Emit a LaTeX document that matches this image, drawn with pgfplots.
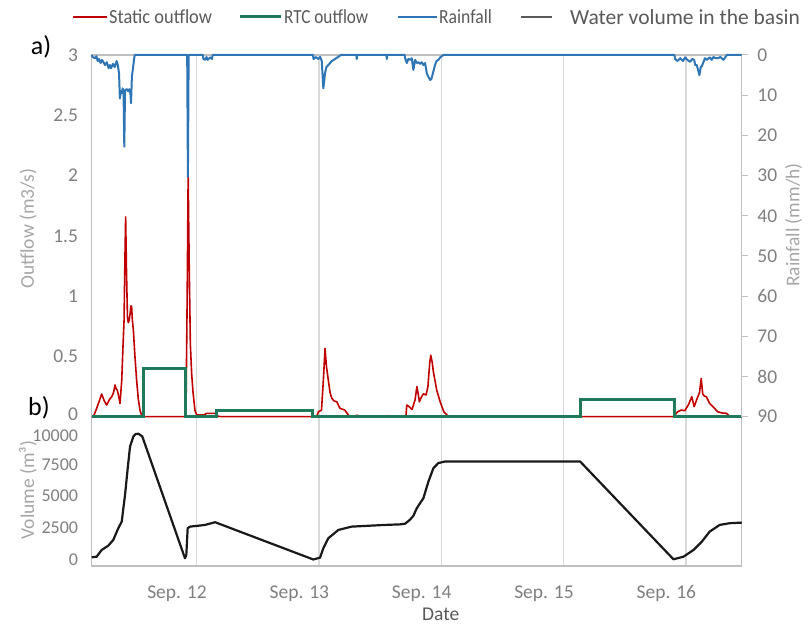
\documentclass[border=0pt]{standalone}
\usepackage{pgfplots}
\pgfplotsset{compat=1.18}
\usepackage{fontspec}
\setmainfont{Carlito}
\definecolor{cred}{HTML}{C00000}
\definecolor{cgreen}{HTML}{1F7A5A}
\definecolor{cblue}{HTML}{2E75B6}
\definecolor{cgrid}{HTML}{D9D9D9}
\definecolor{caxis}{HTML}{BFBFBF}
\definecolor{ctick}{HTML}{7F7F7F}
\definecolor{ctitle}{HTML}{A6A6A6}
\definecolor{cleg}{HTML}{595959}

\pgfplotstableread{
d v
11.1415 0
11.155 0
11.175 0.05
11.2 0.12
11.223 0.188
11.245 0.13
11.264 0.097
11.285 0.14
11.305 0.166
11.32 0.2
11.332 0.263
11.342 0.23
11.351 0.221
11.362 0.17
11.373 0.11
11.387 0.30
11.398 0.6
11.406 0.80
11.413 1.3
11.419 1.657
11.426 1.2
11.434 0.82
11.441 0.78
11.448 0.8
11.455 0.85
11.462 0.92
11.468 0.91
11.474 0.8
11.482 0.72
11.495 0.5
11.509 0.30
11.522 0.15
11.536 0.055
11.55 0.01
11.56 0
11.912 0
11.922 1.0
11.93 2.0
11.938 1.3
11.948 0.6
11.959 0.35
11.97 0.2
11.986 0.05
12.0 0.015
12.06 0.015
12.08 0.028
12.15 0.028
12.17 0.005
12.2 0
12.98 0
12.994 0.04
13.02 0.055
13.035 0.3
13.049 0.566
13.06 0.42
13.076 0.30
13.09 0.2
13.104 0.152
13.125 0.13
13.145 0.124
13.17 0.07
13.21 0.055
13.25 0
13.29 0
13.3 0.01
13.32 0.01
13.33 0
13.55 0
13.56 0.01
13.57 0
13.71 0
13.717 0.097
13.74 0.08
13.76 0.06
13.785 0.14
13.80 0.25
13.812 0.18
13.82 0.124
13.835 0.16
13.853 0.19
13.875 0.18
13.89 0.25
13.905 0.45
13.913 0.51
13.925 0.45
13.935 0.37
13.962 0.22
13.99 0.124
14.02 0.04
14.05 0.01
14.07 0
15.897 0
15.93 0.04
15.96 0.055
15.99 0.05
16.02 0.1
16.047 0.166
16.066 0.083
16.09 0.15
16.11 0.2
16.124 0.318
16.136 0.19
16.15 0.17
16.166 0.166
16.193 0.11
16.22 0.083
16.26 0.04
16.3 0.03
16.33 0.028
16.36 0
16.455 0
}\staticdata

\pgfplotstableread{
d v
11.1415 0
11.563 0
11.563 0.40
11.91 0.40
11.91 0
12.164 0
12.164 0.05
12.948 0.05
12.948 0
15.134 0
15.134 0.14
15.903 0.14
15.903 0
16.455 0
}\rtcdata

\pgfplotstableread{
d r
11.1415 0
11.15 0.5
11.168 0.8
11.18 0.3
11.19 1.5
11.2 1.0
11.215 2.0
11.225 1.2
11.236 1.7
11.25 2.5
11.265 1.8
11.28 3.3
11.29 2.5
11.3 3.3
11.315 2.2
11.33 3.0
11.345 1.5
11.355 2.5
11.365 4.6
11.372 10.8
11.38 9.0
11.387 9.5
11.395 8.3
11.402 9.5
11.408 22.8
11.414 8.7
11.43 8.5
11.44 9.0
11.45 8.5
11.458 9.5
11.463 12.0
11.47 5.4
11.48 3
11.49 0.5
11.495 0
11.922 0
11.928 30.3
11.934 0
12.05 0
12.055 1
12.07 1.2
12.08 0.5
12.09 1.2
12.11 0.6
12.125 1
12.13 0
12.95 0
12.955 1
12.975 0.5
12.992 1
13.01 0.5
13.022 1.5
13.035 8.3
13.049 4.5
13.06 3
13.076 2.5
13.09 2.0
13.104 1.5
13.12 1.2
13.14 0.8
13.155 0.5
13.18 0
13.305 0
13.308 1
13.312 0
13.55 0
13.554 1
13.558 0
13.70 0
13.703 0.7
13.717 2.0
13.73 1.0
13.744 1.2
13.758 0.8
13.771 3.7
13.785 1.2
13.799 2.0
13.812 1.8
13.826 2.2
13.84 1.8
13.853 2.5
13.867 2.0
13.881 4.6
13.895 5.5
13.908 6.2
13.918 6.0
13.93 4.6
13.948 2.5
13.96 1.5
13.976 1.2
13.99 0.6
14.016 0
15.905 0
15.911 1.0
15.93 1.5
15.952 0.8
15.975 1.5
15.992 0.6
16.01 1.2
16.033 1.7
16.05 1.0
16.066 1.2
16.075 2.5
16.088 2.5
16.109 5.0
16.12 3
16.129 2.8
16.142 1.8
16.155 0.8
16.17 1.2
16.193 0.6
16.21 1.2
16.224 0.5
16.24 0.8
16.26 0.8
16.28 0.5
16.306 1.2
16.32 0.6
16.334 0
16.455 0
}\raindata

\pgfplotstableread{
d v
11.1415 174
11.182 221
11.223 751
11.277 1091
11.318 1542
11.359 2466
11.387 2989
11.414 5099
11.436 7210
11.455 8918
11.482 9707
11.50 9894
11.523 9921
11.555 9707
11.904 94
11.915 363
11.926 2466
11.945 2593
12.0 2649
12.068 2727
12.150 2940
12.953 0
13.008 143
13.035 885
13.076 1676
13.158 2332
13.267 2593
13.54 2727
13.662 2770
13.703 2818
13.744 3145
13.771 3447
13.799 4047
13.853 4838
13.894 6150
13.935 7210
13.975 7605
14.03 7731
15.134 7731
15.897 16
15.979 221
16.061 751
16.129 1407
16.193 2198
16.275 2727
16.357 2862
16.456 2909
}\voldata

\begin{document}
\begin{tikzpicture}[x=1pt,y=1pt]
\useasboundingbox (0,0) rectangle (811,626);
\pgfplotsset{
  mybase/.style={
    scale only axis, width=650pt, anchor=south west,
    xmin=11.1415, xmax=16.455,
    scaled x ticks=false, scaled y ticks=false,
    /pgf/number format/assume math mode=true,
    /pgf/number format/1000 sep={},
    ticklabel style={font=\fontsize{19.5}{20}\selectfont, text=ctick, inner sep=1pt},
    label style={font=\fontsize{19.5}{20}\selectfont, text=ctitle},
  }
}
% ---- bottom panel: volume
\begin{axis}[mybase,
  at={(91.7pt,60pt)}, height=149.3pt,
  ymin=-514, ymax=11265,
  ytick={0,2500,5000,7500},
  extra y ticks={10000},
  extra y tick style={yticklabel style={yshift=-2.5pt}},
  axis line style={draw=none},
  tick style={draw=none},
  xtick={12,13,14,15,16},
  xticklabels={Sep. 12,Sep. 13,Sep. 14,Sep. 15,Sep. 16},
  xticklabel style={xshift=-19.7pt, yshift=-18.5pt},
  yticklabel style={xshift=-12.5pt, font=\fontsize{18}{18}\selectfont},
  xmajorgrids, major grid style={cgrid, line width=1.2pt},
  xlabel={Date},
  xlabel style={at={(axis description cs:0.537,-0.322)}, anchor=center, text=cleg},
  ylabel={Volume (m³)},
  ylabel style={at={(axis description cs:-0.098,0.509)}, anchor=center},
  clip=false,
]
\draw[caxis, line width=1.2pt] (rel axis cs:0,1) -- (rel axis cs:0,0) -- (rel axis cs:1,0) -- (rel axis cs:1,1);
\addplot[black!90, line width=2.2pt, line join=round] table[x=d,y=v] {\voldata};
\end{axis}
% ---- top panel: outflow
\begin{axis}[mybase,
  at={(91.7pt,209.3pt)}, height=361.7pt,
  ymin=0, ymax=3,
  ytick={0.5,1,...,3},
  extra y ticks={0},
  extra y tick style={yticklabel style={yshift=2.5pt}},
  axis line style={caxis, line width=1.2pt},
  tick style={draw=none},
  xtick={12,13,14,15,16}, xticklabels={},
  xmajorgrids, major grid style={cgrid, line width=1.2pt},
  yticklabel style={xshift=-12.5pt},
  ylabel={Outflow (m3/s)},
  ylabel style={at={(axis description cs:-0.098,0.52)}, anchor=center},
  clip=false,
]
\addplot[cred, line width=1.6pt, line join=round] table[x=d,y=v] {\staticdata};
\addplot[cgreen, line width=3pt] table[x=d,y=v] {\rtcdata};
\end{axis}
% ---- top panel: rainfall
\begin{axis}[mybase,
  at={(91.7pt,209.3pt)}, height=361.7pt,
  ymin=0, ymax=90, y dir=reverse,
  axis y line*=right, axis x line=none,
  ytick distance=10,
  axis line style={caxis, line width=1.2pt},
  tick style={caxis, line width=1pt}, major tick length=6pt, tick align=outside,
  yticklabel style={xshift=8.5pt},
  ylabel={Rainfall (mm/h)},
  ylabel style={at={(axis description cs:1.08,0.53)}, anchor=center},
  clip=false,
]
\addplot[cblue, line width=2pt, line join=round] table[x=d,y=r] {\raindata};
\end{axis}
% ---- panel letters
\node[font=\fontsize{26}{26}\selectfont] at (41,579) {a)};
\node[font=\fontsize{26}{26}\selectfont] at (39,218) {b)};
% ---- legend
\draw[cred, line width=1.6pt] (73,609) -- (107,609);
\node[anchor=west, inner sep=0, text=cleg, font=\fontsize{20}{20}\selectfont, xscale=0.92] at (109,609) {Static outflow};
\draw[cgreen, line width=3pt] (240,609) -- (281,609);
\node[anchor=west, inner sep=0, text=cleg, font=\fontsize{20}{20}\selectfont, xscale=0.86] at (284,609) {RTC outflow};
\draw[cblue, line width=2pt] (398,609) -- (437,609);
\node[anchor=west, inner sep=0, text=cleg, font=\fontsize{20}{20}\selectfont, xscale=0.88] at (439,609) {Rainfall};
\draw[cleg, line width=2pt] (521,609) -- (552,609);
\node[anchor=west, inner sep=0, text=cleg, font=\fontsize{21.5}{22}\selectfont] at (570,609) {Water volume in the basin};
\end{tikzpicture}
\end{document}
